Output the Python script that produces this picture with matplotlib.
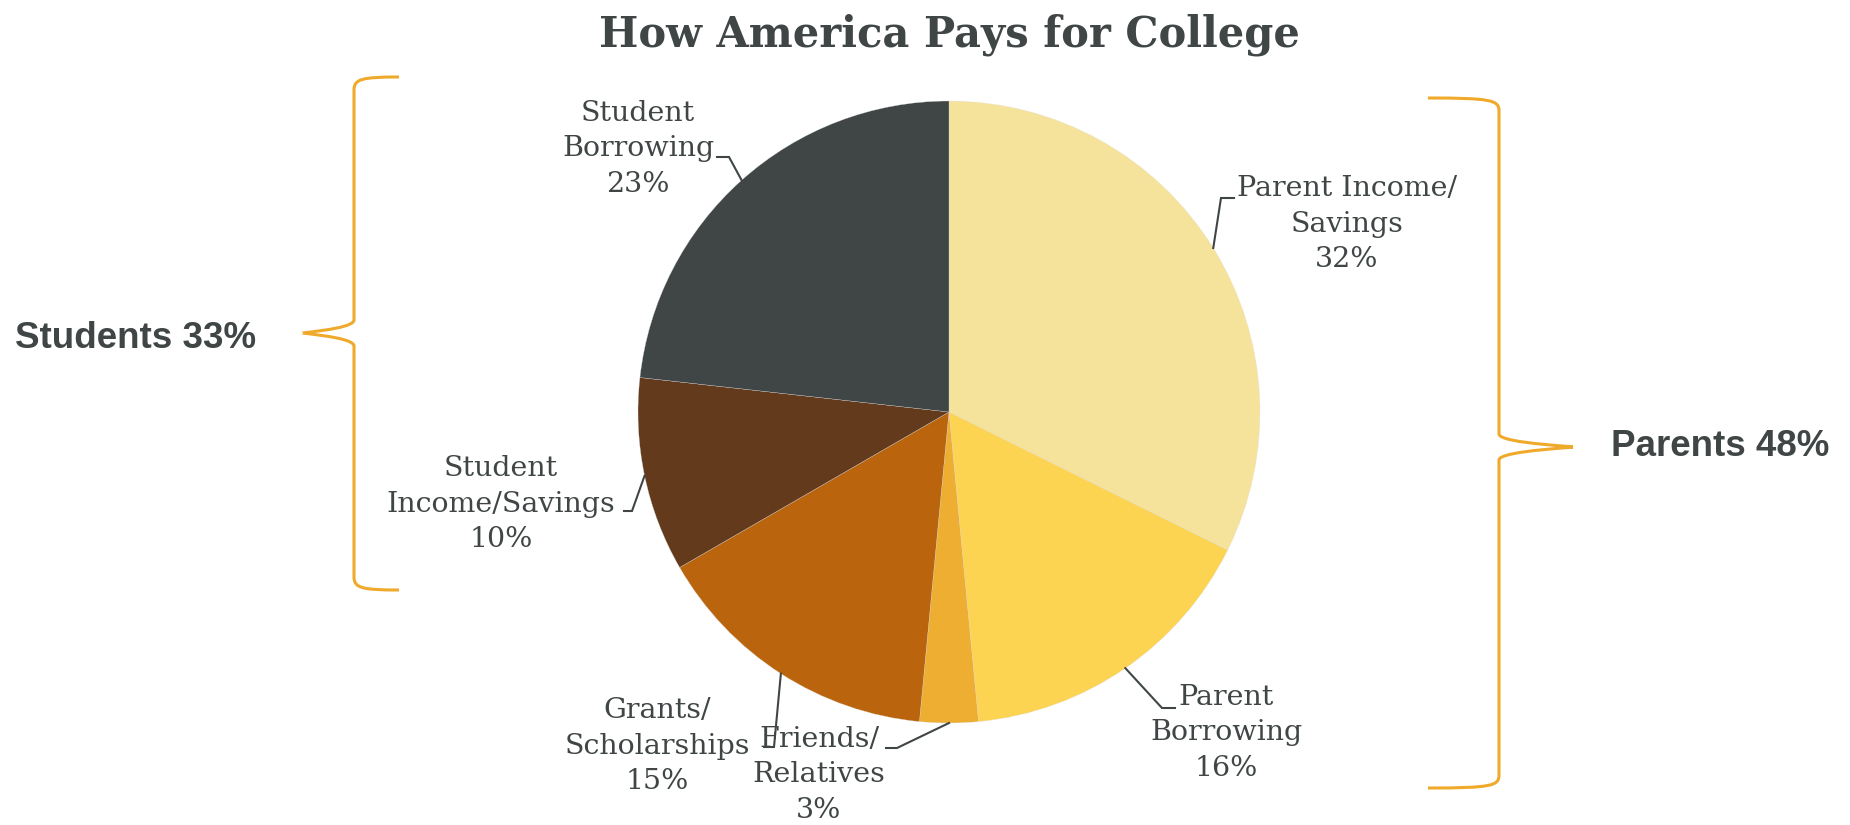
import matplotlib
matplotlib.use("Agg")
import numpy as np
import matplotlib.pyplot as plt
from matplotlib.path import Path
from matplotlib.patches import PathPatch

W, H = 1850, 825

# funding sources, clockwise from the top
sources = ["Parent Income/\nSavings", "Parent\nBorrowing", "Friends/\nRelatives",
           "Grants/\nScholarships", "Student\nIncome/Savings", "Student\nBorrowing"]
shares = [32, 16, 3, 15, 10, 23]
colors = ["#F6E39B", "#FDD352", "#EDAE31", "#BA650E", "#633A1C", "#404646"]

groups = ["Parents 48%", "Students 33%"]

# label layout in pixels from the top-left: text centre, elbow, tick end
label_xy = [(1347, 224), (1226, 733), (819, 775), (657, 746), (501, 504), (638, 149)]
elbow_xy = [(1221, 198), (1162, 708), (897, 748), (774, 747), (632, 511), (729, 157)]
tick_end = [(1234, 198), (1175, 708), (886, 748), (764, 747), (624, 511), (717, 157)]

ink = "#404646"
brace_col = "#EFAA2C"
serif = "DejaVu Serif"


def fy(y):
    return H - y


fig = plt.figure(figsize=(W / 100, H / 100), dpi=100)
ax = fig.add_axes([0, 0, 1, 1])

cx, cy, r = 949, fy(412), 311
wedges, _ = ax.pie(shares, colors=colors, startangle=90, counterclock=False,
                   center=(cx, cy), radius=r,
                   wedgeprops=dict(linewidth=0.2, edgecolor="#dddddd"))
ax.set_xlim(0, W)
ax.set_ylim(0, H)
ax.set_aspect("equal")
ax.axis("off")

for w, name, v, (tx, ty), (ex, ey), (kx, ky) in zip(wedges, sources, shares,
                                                    label_xy, elbow_xy, tick_end):
    mid = np.deg2rad((w.theta1 + w.theta2) / 2)
    sx, sy = cx + r * np.cos(mid), cy + r * np.sin(mid)
    ax.plot([sx, ex, kx], [sy, fy(ey), fy(ky)], color=ink, lw=1.5,
            solid_joinstyle="miter")
    ax.text(tx, fy(ty), f"{name}\n{v}%", ha="center", va="center",
            fontsize=20.5, family=serif, color=ink, linespacing=1.4)


def brace(x, top, bot, tip, arm, direction):
    # curly brace with a vertical spine at x, pointing in `direction` (-1 left, +1 right)
    mid = tip[1]
    c = 13
    d = -direction
    verts = [
        (x + d * arm, fy(top)),
        (x + d * 8, fy(top)), (x, fy(top) - 2), (x, fy(top + c)),
        (x, fy(mid - c)),
        (x, fy(mid - 3)), (tip[0] - d * 20, fy(mid)), (tip[0], fy(mid)),
        (tip[0] - d * 20, fy(mid)), (x, fy(mid + 3)), (x, fy(mid + c)),
        (x, fy(bot - c)),
        (x, fy(bot) + 2), (x + d * 8, fy(bot)), (x + d * arm, fy(bot)),
    ]
    codes = [Path.MOVETO,
             Path.CURVE4, Path.CURVE4, Path.CURVE4,
             Path.LINETO,
             Path.CURVE4, Path.CURVE4, Path.CURVE4,
             Path.CURVE4, Path.CURVE4, Path.CURVE4,
             Path.LINETO,
             Path.CURVE4, Path.CURVE4, Path.CURVE4]
    ax.add_patch(PathPatch(Path(verts, codes), fill=False, edgecolor=brace_col,
                           lw=2.2, capstyle="butt"))


brace(1499, 98, 788, (1570, 447), 71, +1)
brace(354, 77, 590, (309, 333), 45, -1)

ax.text(1611, fy(447), groups[0], ha="left", va="center", fontsize=26.5,
        family="Liberation Sans", fontweight="bold", color=ink)
ax.text(15, fy(339), groups[1], ha="left", va="center", fontsize=26.5,
        family="Liberation Sans", fontweight="bold", color=ink)

ax.text(949, fy(35), "How America Pays for College", ha="center", va="center",
        fontsize=30, family=serif, fontweight="bold", color=ink)

fig.savefig("out.png", dpi=100)
